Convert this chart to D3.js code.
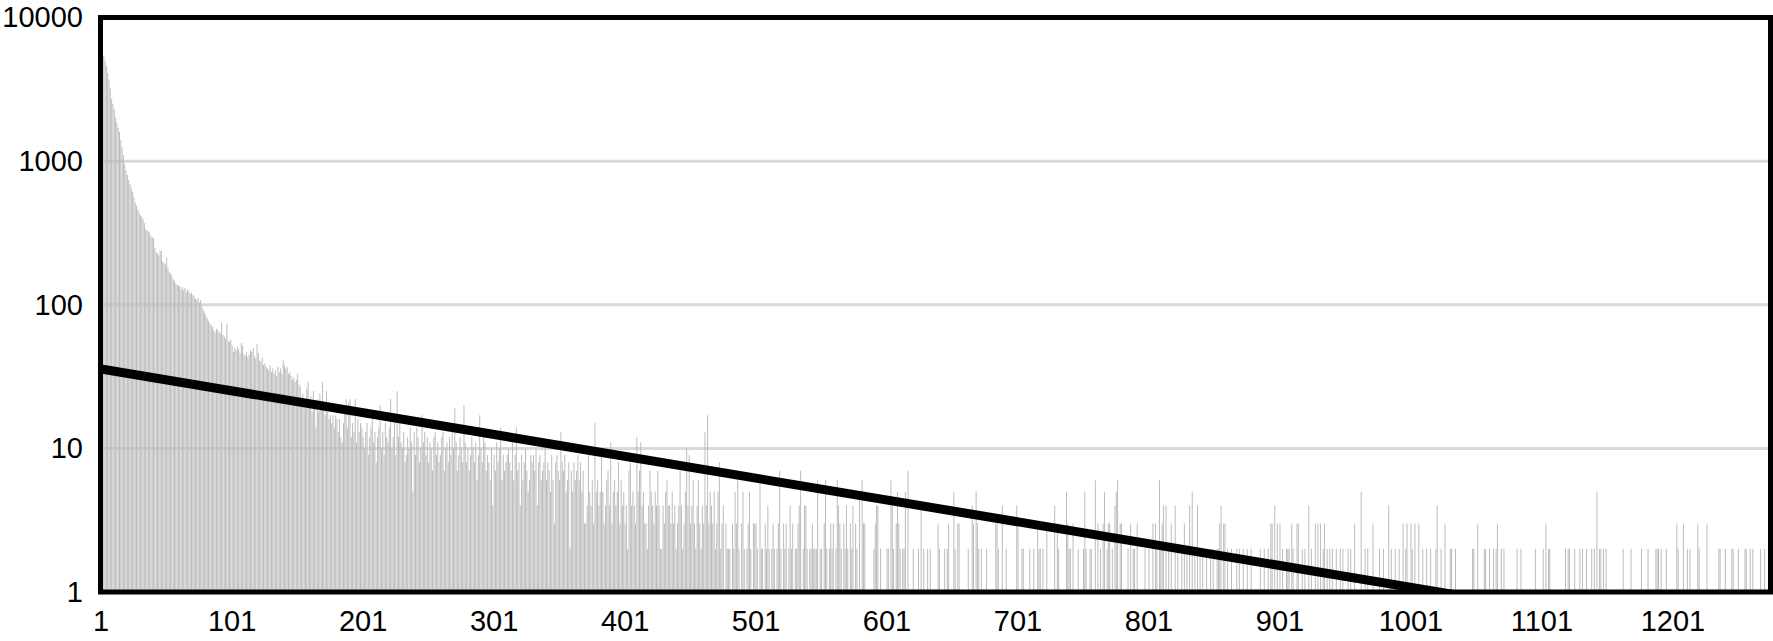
<!DOCTYPE html>
<html>
<head>
<meta charset="utf-8">
<script src="https://cdn.jsdelivr.net/npm/d3@7"></script>
<style>
body { margin: 0; background: #fff; }
svg { display: block; }
</style>
</head>
<body>
<div id="chart"></div>
<script>

// counts per category, category 1 .. 1275
var counts = [
// 1
2000,2200,5400,5000,4600,4100,3700,3200,2700,2500,
2300,2000,1850,1700,1600,1400,1250,1100,950,860,
800,740,690,650,610,560,515,490,460,440,
420,410,395,370,335,330,325,318,300,295,
290,250,232,228,220,238,236,200,195,190,
213,180,168,165,158,150,147,140,138,136,
135,128,133,126,131,122,128,124,119,121,
117,114,110,108,112,104,108,96,92,88,
84,80,77,74,72,70,66,64,68,67,
65,63,75,62,60,58,74,56,55,57,
// 101
52,47,50,48,51,49,46,54,52,45,
44,47,43,45,48,47,50,44,42,53,
46,41,40,43,38,39,37,36,35,38,
34,36,33,35,32,37,34,36,33,41,
38,36,37,33,34,32,30,31,29,30,
33,28,27,20,24,22,19,26,29,21,
23,18,25,20,14,22,18,24,19,29,
21,17,25,18,16,17,15,17,14,17,
16,13,16,12,11,15,18,22,14,21,
22,12,15,13,22,11,16,13,15,14,
// 201
12,10,13,15,9,12,14,16,11,13,
8,12,14,20,10,13,9,15,12,11,
14,22,10,12,16,9,25,12,15,11,
10,13,8,9,12,10,14,11,5,13,
9,14,12,8,10,17,11,13,9,12,
8,11,10,7,12,13,9,11,8,9,
12,13,7,10,11,8,12,9,13,10,
19,11,7,9,12,10,8,20,11,8,
10,7,9,12,10,8,11,6,9,17,
10,8,12,11,7,9,8,6,10,4,
// 301
9,7,11,8,10,14,6,9,7,8,
9,10,8,7,11,6,9,14,7,8,
4,9,6,8,10,7,5,6,9,8,
9,7,10,4,8,9,6,7,8,11,
6,8,7,5,9,6,3,8,9,7,
6,13,8,7,9,5,6,8,2,7,
5,8,6,7,9,6,8,5,7,3,
3,4,9,5,4,6,3,15,5,6,
4,5,9,5,3,4,6,7,4,11,
3,5,6,4,5,8,3,6,4,5,
// 401
3,4,2,7,8,4,5,4,3,12,
5,7,11,4,5,3,3,2,4,7,
5,4,3,5,4,7,4,2,2,4,
3,5,6,4,4,3,5,3,4,2,
3,4,7,4,2,3,5,10,4,9,
3,4,6,3,2,4,6,3,2,4,
3,13,4,17,3,5,4,3,5,2,
3,5,8,2,3,4,1,3,2,2,
2,1,3,2,5,3,6,2,1,3,
5,2,1,2,3,5,2,1,3,3,
// 501
3,2,1,6,2,2,1,3,2,4,
2,1,2,3,2,1,2,3,7,2,
1,3,2,3,1,2,4,2,3,1,
2,2,3,4,7,1,2,4,4,2,
1,2,2,3,2,2,2,6,1,2,
2,1,3,6,2,1,2,3,2,3,
1,2,6,4,3,2,1,3,2,4,
2,1,3,2,4,1,3,2,1,5,
1,6,3,3,1,1,1,1,1,1,
2,3,4,4,1,2,1,1,1,1,
// 601
2,2,1,6,4,2,1,3,5,3,
2,1,2,2,5,1,7,1,1,1,
2,1,1,1,2,1,4,1,2,1,
1,2,1,2,1,1,1,1,1,3,
2,1,1,1,2,1,2,3,1,1,
1,5,2,1,3,3,1,1,1,1,
1,1,2,1,1,4,3,1,5,3,
2,1,2,1,1,1,2,1,1,1,
1,1,1,3,3,2,1,1,4,1,
1,2,1,1,1,1,1,1,1,4,
// 701
3,1,1,2,2,1,1,1,1,2,
1,1,2,1,1,3,2,2,1,2,
1,1,3,1,1,1,1,1,4,1,
3,2,1,1,1,1,1,5,3,2,
2,1,3,1,1,1,2,1,1,1,
2,5,2,1,1,2,2,1,1,6,
1,3,1,2,1,3,5,1,2,3,
3,1,2,1,4,5,6,1,3,3,
1,1,1,1,2,1,3,1,2,2,
1,3,1,1,1,1,1,2,1,1,
// 801
2,1,1,3,1,3,2,1,6,2,
3,4,1,4,1,2,1,3,1,1,
4,1,2,1,1,2,1,3,1,2,
1,4,1,5,1,2,1,4,1,2,
1,2,1,1,2,1,1,2,1,2,
1,1,2,2,3,4,1,3,3,1,
2,1,1,2,1,1,1,2,1,2,
1,1,2,1,1,2,1,1,2,1,
1,1,1,1,1,2,1,1,2,1,
1,2,1,3,3,1,4,1,3,1,
// 901
3,1,2,1,1,2,2,2,1,3,
2,1,1,3,3,1,1,2,1,2,
1,1,4,1,2,1,1,3,1,3,
1,3,1,2,3,1,2,1,2,1,
2,1,1,2,1,1,2,1,2,1,
1,1,2,1,2,1,1,3,1,1,
1,1,5,1,1,2,1,2,1,1,
1,3,1,1,1,1,2,1,1,2,
1,1,1,4,1,2,1,1,2,1,
1,2,1,1,3,1,2,3,1,1,
// 1001
3,2,1,3,1,1,3,1,1,2,
1,1,2,1,1,2,1,1,1,2,
4,1,1,2,1,1,3,1,1,1,
2,2,1,1,2,1,1,1,1,1,
1,1,1,1,1,1,1,2,2,1,
1,3,1,1,1,1,2,2,1,1,
2,1,1,2,1,2,3,1,1,2,
1,2,1,1,1,1,1,1,1,1,
1,2,1,1,2,1,1,1,1,1,
1,1,1,1,1,2,1,1,1,1,
// 1101
1,2,1,3,1,2,2,1,1,1,
1,1,1,1,1,1,1,1,2,1,
2,2,1,1,1,2,1,1,1,2,
1,2,1,1,2,1,1,1,2,1,
2,1,5,1,2,2,1,2,1,2,
1,1,1,1,1,1,1,1,1,1,
1,1,2,1,1,1,1,1,2,1,
1,1,1,1,1,1,2,1,1,1,
1,2,1,1,1,1,1,2,2,2,
1,2,1,1,1,2,1,1,1,1,
// 1201
1,1,1,3,2,1,1,1,3,1,
1,2,1,2,1,1,1,1,1,3,
2,1,1,1,1,1,3,1,1,1,
1,1,1,1,1,2,2,1,1,1,
2,1,1,1,1,2,2,1,1,1,
2,1,1,1,1,2,2,1,1,2,
1,2,1,1,1,1,1,2,1,1,
2,1,1,1,1
];

var categories = d3.range(1, counts.length + 1);
var xTickLabels = [1, 101, 201, 301, 401, 501, 601, 701, 801, 901, 1001, 1101, 1201];
var yTickLabels = [1, 10, 100, 1000, 10000];

// exponential trendline  y = a * e^(b*x)
var trendA = 35.8;
var trendB = -0.0035;

var width = 1773, height = 641;
// plot area edges (window.top is read only, so no plain "top")
var plotLeft = 100.5, plotRight = 1770.5, plotTop = 17.5, plotBottom = 592;

var svg = d3.select("#chart").append("svg")
    .attr("width", width)
    .attr("height", height);

var x = d3.scaleBand()
    .domain(categories)
    .range([plotLeft, plotRight])
    .paddingInner(0.24)
    .paddingOuter(0.12);

var y = d3.scaleLog()
    .domain([1, 10000])
    .range([plotBottom, plotTop]);

// category number -> centre of its band, for the trendline
var xc = d3.scaleLinear()
    .domain([1, categories.length])
    .range([x(1) + x.bandwidth() / 2, x(categories.length) + x.bandwidth() / 2]);

// gridlines
svg.append("g")
    .selectAll("line")
    .data(yTickLabels)
    .enter()
    .append("line")
    .attr("x1", plotLeft)
    .attr("x2", plotRight)
    .attr("y1", d => y(d))
    .attr("y2", d => y(d))
    .attr("stroke", "#d9d9d9")
    .attr("stroke-width", 3);

svg.append("clipPath")
    .attr("id", "plotclip")
    .append("rect")
    .attr("x", plotLeft)
    .attr("y", plotTop)
    .attr("width", plotRight - plotLeft)
    .attr("height", plotBottom - plotTop);

// bars
svg.append("g")
    .selectAll("rect")
    .data(counts)
    .enter()
    .append("rect")
    .attr("x", (d, i) => x(categories[i]))
    .attr("width", x.bandwidth())
    .attr("y", d => y(d))
    .attr("height", d => plotBottom - y(d))
    .attr("fill", "#bcbcbc");

// trendline, straight on a log axis so its two ends are enough
var trend = [1, categories.length].map(function(c) {
    return [c, trendA * Math.exp(trendB * c)];
});

svg.append("path")
    .datum(trend)
    .attr("clip-path", "url(#plotclip)")
    .attr("fill", "none")
    .attr("stroke", "#000")
    .attr("stroke-width", 9)
    .attr("d", d3.line().x(d => xc(d[0])).y(d => y(d[1])));

// plot area border
svg.append("rect")
    .attr("x", plotLeft)
    .attr("y", plotTop)
    .attr("width", plotRight - plotLeft)
    .attr("height", plotBottom - plotTop)
    .attr("fill", "none")
    .attr("stroke", "#000")
    .attr("stroke-width", 5);

var font = "'Liberation Sans', Arial, sans-serif";

var yAxis = svg.append("g")
    .attr("transform", "translate(" + plotLeft + ",0)")
    .call(d3.axisLeft(y).tickValues(yTickLabels).tickFormat(d3.format("d")).tickSize(0).tickPadding(17.5));

var xAxis = svg.append("g")
    .attr("transform", "translate(0," + plotBottom + ")")
    .call(d3.axisBottom(x).tickValues(xTickLabels).tickSize(0).tickPadding(18));

[yAxis, xAxis].forEach(function(g) {
    g.select(".domain").remove();
    g.selectAll("text")
        .style("font-family", font)
        .style("font-size", "29px")
        .attr("fill", "#000");
});

</script>
</body>
</html>
